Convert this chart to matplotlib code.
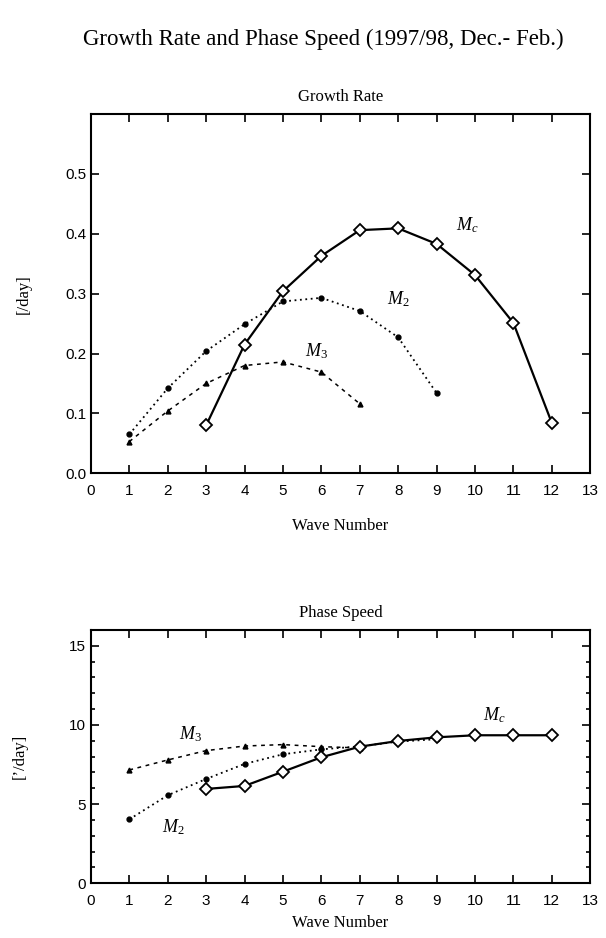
import numpy as np
import matplotlib
matplotlib.use("Agg")
import matplotlib.pyplot as plt
from matplotlib.ticker import MultipleLocator

# Dados
wave_mc = [3, 4, 5, 6, 7, 8, 9, 10, 11, 12]
wave_m2 = [1, 2, 3, 4, 5, 6, 7, 8, 9]
wave_m3 = [1, 2, 3, 4, 5, 6, 7]

growth_mc = [0.080, 0.215, 0.304, 0.363, 0.406, 0.409, 0.383, 0.331, 0.251, 0.084]
growth_m2 = [0.065, 0.142, 0.204, 0.249, 0.287, 0.293, 0.271, 0.227, 0.134]
growth_m3 = [0.053, 0.104, 0.150, 0.180, 0.186, 0.169, 0.116]

speed_mc = [5.96, 6.15, 7.05, 7.96, 8.63, 8.99, 9.22, 9.35, 9.35, 9.35]
speed_m2 = [4.04, 5.56, 6.59, 7.54, 8.15, 8.46, 8.65, 8.95, 9.10]
speed_m3 = [7.16, 7.79, 8.38, 8.67, 8.76, 8.63, 8.55]

xticks = list(range(0, 14))
serif = ["Liberation Serif", "DejaVu Serif"]
sans = ["Liberation Sans", "DejaVu Sans"]

plt.rcParams['font.family'] = sans
plt.rcParams['mathtext.fontset'] = 'custom'
plt.rcParams['mathtext.it'] = 'Liberation Serif:italic'
plt.rcParams['mathtext.rm'] = 'Liberation Serif'

fig = plt.figure(figsize=(6.06, 9.38), dpi=100)
ax1 = fig.add_axes([0.150, 0.4954, 0.824, 0.3831])
ax2 = fig.add_axes([0.150, 0.0583, 0.824, 0.2701])

fig.text(0.533, 0.958, "Growth Rate and Phase Speed (1997/98, Dec.- Feb.)",
         ha='center', va='center', fontsize=16.5, family=serif)


def draw(ax, mc, m2, m3):
    ax.plot(wave_mc, mc, color='black', lw=1.6, marker='D', ms=6,
            mfc='white', mec='black', mew=1.3, zorder=3)
    ax.plot(wave_m2, m2, color='black', lw=1.3, ls=(0, (1, 2)), marker='o',
            ms=3.5, zorder=2)
    ax.plot(wave_m3, m3, color='black', lw=1.1, ls=(0, (2.5, 3)), marker='^',
            ms=3.5, zorder=2)


def style(ax, xpad):
    ax.set_xlim(0, 13)
    ax.set_xticks(xticks)
    ax.tick_params(which='both', direction='in', top=True, right=True,
                   labelsize=11, width=1.2)
    ax.tick_params(which='major', length=6)
    ax.tick_params(which='minor', length=3)
    ax.tick_params(axis='x', pad=8)
    for s in ax.spines.values():
        s.set_linewidth(1.5)
    ax.set_xlabel("Wave Number", family=serif, fontsize=12, labelpad=xpad)


# Growth rate
draw(ax1, growth_mc, growth_m2, growth_m3)
style(ax1, 14)
ax1.set_ylim(0, 0.6)
ax1.set_yticks([0.0, 0.1, 0.2, 0.3, 0.4, 0.5])
ax1.set_yticklabels(["0.0", "0.1", "0.2", "0.3", "0.4", "0.5"])
ax1.set_title("Growth Rate", family=serif, fontsize=12, pad=9)
ax1.set_ylabel("[/day]", family=serif, fontsize=12, labelpad=24)
ax1.text(9.5, 0.405, r"$M_c$", fontsize=13)
ax1.text(7.7, 0.282, r"$M_2$", fontsize=13)
ax1.text(5.57, 0.196, r"$M_3$", fontsize=13)

# Phase speed
draw(ax2, speed_mc, speed_m2, speed_m3)
style(ax2, 5)
ax2.set_ylim(0, 16)
ax2.set_yticks([0, 5, 10, 15])
ax2.yaxis.set_minor_locator(MultipleLocator(1))
ax2.set_title("Phase Speed", family=serif, fontsize=12, pad=9)
ax2.set_ylabel("[\u2019/day]", family=serif, fontsize=12, labelpad=30)
ax2.text(10.2, 10.3, r"$M_c$", fontsize=13)
ax2.text(2.3, 9.1, r"$M_3$", fontsize=13)
ax2.text(1.85, 3.2, r"$M_2$", fontsize=13)

fig.savefig("out.png", dpi=100)
